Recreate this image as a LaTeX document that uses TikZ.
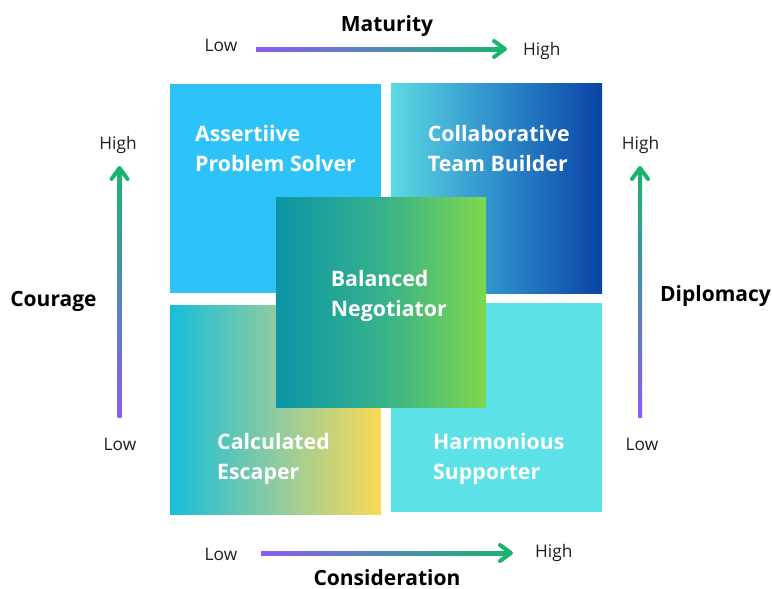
\documentclass[tikz,border=0pt]{standalone}
\usepackage{fontspec}
\setmainfont{Open Sans}
\usetikzlibrary{calc}

% quadrant colours
\definecolor{tlblue}{HTML}{2DC3F8}
\definecolor{trcyan}{HTML}{5DD9E2}
\definecolor{trmid}{HTML}{2E8ECB}
\definecolor{trnavy}{HTML}{0A43A6}
\definecolor{blcyan}{HTML}{17BEDA}
\definecolor{blmid}{HTML}{8ECBA0}
\definecolor{blyellow}{HTML}{F9DA55}
\definecolor{brcyan}{HTML}{5CE1E6}
\definecolor{ctteal}{HTML}{0B95A7}
\definecolor{ctmid}{HTML}{35B18B}
\definecolor{ctgreen}{HTML}{7ED74D}
% axis colours
\definecolor{axpurple}{HTML}{8B5CF6}
\definecolor{axgreen}{HTML}{19B46F}
\definecolor{labelgray}{HTML}{1F1F1F}

\begin{document}
\begin{tikzpicture}[x=1pt,y=-1pt,
  quadlabel/.style={anchor=base west,inner sep=0,text=white,
    font=\fontsize{21.3}{24}\selectfont\bfseries},
  axislabel/.style={anchor=base,inner sep=0,text=labelgray,
    font=\fontsize{17.3}{20}\selectfont},
  axistitle/.style={anchor=base,inner sep=0,text=black,
    font=\fontsize{21}{24}\selectfont\bfseries},
  arrowhead/.style={draw=axgreen,line width=4pt,line cap=round,line join=round}]

\useasboundingbox[fill=white] (0,0) rectangle (772,589);

% the four quadrants
\fill[tlblue] (170,84) rectangle (381,293);
\shade[left color=trcyan,right color=trnavy,middle color=trmid] (391,83) rectangle (602,293);
\shade[left color=blcyan,right color=blyellow,middle color=blmid] (170,305) rectangle (381,514);
\fill[brcyan] (391,303) rectangle (602,512);
% centre square on top
\shade[left color=ctteal,right color=ctgreen,middle color=ctmid] (276,197) rectangle (486,407);

% quadrant texts
\node[quadlabel] (tl1) at (195,141.7) {Assertiive};
\node[quadlabel] (tl2) at (195,171.7) {Problem Solver};
\node[quadlabel] (tr1) at (427.7,141.7) {Collaborative};
\node[quadlabel] (tr2) at (427.7,171.7) {Team Builder};
\node[quadlabel] (ct1) at (330.7,286) {Balanced};
\node[quadlabel] (ct2) at (330.7,316.7) {Negotiator};
\node[quadlabel] (bl1) at (217,449) {Calculated};
\node[quadlabel] (bl2) at (217,479) {Escaper};
\node[quadlabel] (br1) at (433,449) {Harmonious};
\node[quadlabel] (br2) at (433,479) {Supporter};

% Maturity axis (top)
\coordinate (mA) at (256,49);
\coordinate (mB) at (505,49);
\shade[left color=axpurple,right color=axgreen] ($(mA)+(0,-2)$) rectangle ($(mB)+(-2,2)$);
\draw[arrowhead] ($(mB)+(-11,-8)$) -- (mB) -- ($(mB)+(-11,8)$);
\node[axistitle] (maturity) at (387,31) {Maturity};
\node[axislabel] (mlow) at (221,52) {Low};
\node[axislabel,anchor=base west] (mhigh) at (523,55) {High};

% Consideration axis (bottom)
\coordinate (nA) at (261,553);
\coordinate (nB) at (511,553);
\shade[left color=axpurple,right color=axgreen] ($(nA)+(0,-2)$) rectangle ($(nB)+(-2,2)$);
\draw[arrowhead] ($(nB)+(-11,-8)$) -- (nB) -- ($(nB)+(-11,8)$);
\node[axistitle] (consid) at (387,585.5) {Consideration};
\node[axislabel] (nlow) at (221,560.7) {Low};
\node[axislabel,anchor=base west] (nhigh) at (535,557) {High};

% Courage axis (left)
\coordinate (cA) at (119.5,417);
\coordinate (cB) at (119.5,168);
\shade[bottom color=axpurple,top color=axgreen] ($(cA)+(-2,0)$) rectangle ($(cB)+(2,2)$);
\draw[arrowhead] ($(cB)+(-8,11)$) -- (cB) -- ($(cB)+(8,11)$);
\node[axistitle] (courage) at (53.5,306.7) {Courage};
\node[axislabel] (chigh) at (118,149) {High};
\node[axislabel] (clow) at (120,450) {Low};

% Diplomacy axis (right)
\coordinate (dA) at (640,417);
\coordinate (dB) at (640,168);
\shade[bottom color=axpurple,top color=axgreen] ($(dA)+(-2,0)$) rectangle ($(dB)+(2,2)$);
\draw[arrowhead] ($(dB)+(-8,11)$) -- (dB) -- ($(dB)+(8,11)$);
\node[axistitle,anchor=base west] (diplo) at (660,301) {Diplomacy};
\node[axislabel] (dhigh) at (640.5,149) {High};
\node[axislabel] (dlow) at (642,450) {Low};
\end{tikzpicture}
\end{document}
